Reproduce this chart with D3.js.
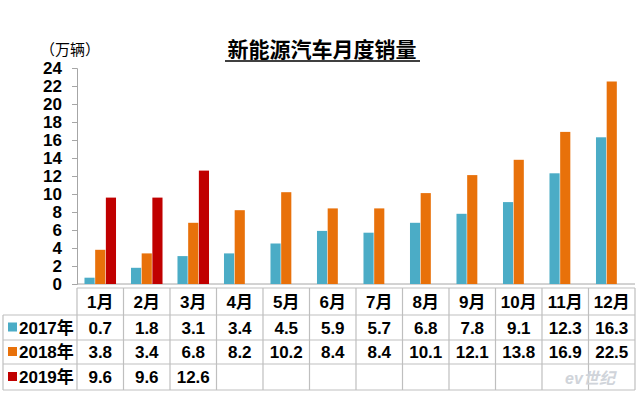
<!DOCTYPE html>
<html>
<head>
<meta charset="utf-8">
<script src="https://cdn.jsdelivr.net/npm/d3@7"></script>
<style>
body{margin:0;background:#fff;}
text{font-family:Arial,"Liberation Sans","Noto Sans CJK SC",sans-serif;font-weight:bold;fill:#000;}
</style>
</head>
<body>
<div id="chart"></div>
<script>
// data
var months = ['1月','2月','3月','4月','5月','6月','7月','8月','9月','10月','11月','12月'];
var series = ['2017年','2018年','2019年'];
var colors = ['#4BACC6','#E8710A','#C00000'];
var v2017 = [0.7,1.8,3.1,3.4,4.5,5.9,5.7,6.8,7.8,9.1,12.3,16.3];
var v2018 = [3.8,3.4,6.8,8.2,10.2,8.4,8.4,10.1,12.1,13.8,16.9,22.5];
var v2019 = [9.6,9.6,12.6,null,null,null,null,null,null,null,null,null];
var yTicks = [0,2,4,6,8,10,12,14,16,18,20,22,24];

var values = [v2017,v2018,v2019];
var w = 640, h = 395;
var plotL = 77, plotR = 635, plotT = 68, plotB = 284;

var svg = d3.select('div#chart').append('svg')
			.attr('width',w)
			.attr('height',h);

//title
svg.append('text')
	.attr('x',322).attr('y',57)
	.attr('text-anchor','middle')
	.style('font-family','"Noto Sans CJK SC",sans-serif')
	.style('font-size','21px')
	.style('font-weight','bold')
	.text('新能源汽车月度销量');
svg.append('line')
	.attr('x1',225).attr('x2',420)
	.attr('y1',61).attr('y2',61)
	.attr('stroke','#000').attr('stroke-width',1.5);

svg.append('text')
	.attr('x',40).attr('y',55)
	.style('font-family','"Noto Sans CJK SC",sans-serif')
	.style('font-size','15px')
	.style('font-weight','normal')
	.text('（万辆）');

//scales
var x = d3.scaleBand().domain(months).range([plotL,plotR]);
var xs = d3.scaleBand().domain(series).range([0,x.bandwidth()]).paddingInner(0.05).paddingOuter(0.7);
var y = d3.scaleLinear().domain([0,24]).range([plotB,plotT]);

//y axis
var yAxis = svg.append('g')
			.attr('transform','translate('+plotL+',0)')
			.call(d3.axisLeft(y).tickValues(yTicks).tickSize(5).tickPadding(10));
yAxis.select('.domain').attr('stroke','#a6a6a6');
yAxis.selectAll('.tick line').attr('stroke','#a6a6a6');
yAxis.selectAll('.tick text')
	.style('font-family','Arial,"Liberation Sans",sans-serif')
	.style('font-size','17px')
	.style('font-weight','bold')
	.attr('fill','#000');

//baseline
svg.append('line')
	.attr('x1',plotL).attr('x2',plotR)
	.attr('y1',plotB).attr('y2',plotB)
	.attr('stroke','#a6a6a6');

//bars
series.forEach(function(s,si){
	svg.append('g').selectAll('rect')
		.data(values[si].map(function(v,i){return {m:months[i],v:v};}).filter(function(d){return d.v!==null;}))
		.enter()
		.append('rect')
		.attr('x',function(d){return x(d.m)+xs(s);})
		.attr('width',xs.bandwidth())
		.attr('y',function(d){return y(d.v);})
		.attr('height',function(d){return plotB-y(d.v);})
		.attr('fill',colors[si]);
});

//data table
var rowY = [288,315,340,364,390];
var tableLeft = 3;
var grid = svg.append('g').attr('stroke','#bfbfbf').attr('stroke-width',1.2);

//horizontal lines
grid.append('line').attr('x1',plotL).attr('x2',plotR).attr('y1',rowY[0]).attr('y2',rowY[0]);
rowY.slice(1).forEach(function(yy){
	grid.append('line').attr('x1',tableLeft).attr('x2',plotR).attr('y1',yy).attr('y2',yy);
});
//vertical lines
grid.append('line').attr('x1',tableLeft).attr('x2',tableLeft).attr('y1',rowY[1]).attr('y2',rowY[4]);
months.forEach(function(m){
	grid.append('line').attr('x1',x(m)).attr('x2',x(m)).attr('y1',rowY[0]).attr('y2',rowY[4]);
});
grid.append('line').attr('x1',plotR).attr('x2',plotR).attr('y1',rowY[0]).attr('y2',rowY[4]);

//header
svg.append('g').selectAll('text')
	.data(months)
	.enter()
	.append('text')
	.attr('x',function(d){return x(d)+x.bandwidth()/2;})
	.attr('y',(rowY[0]+rowY[1])/2+6)
	.attr('text-anchor','middle')
	.style('font-size','17px')
	.text(function(d){return d;});

//rows
series.forEach(function(s,si){
	var cy = (rowY[si+1]+rowY[si+2])/2;
	svg.append('rect')
		.attr('x',8).attr('y',cy-5)
		.attr('width',9).attr('height',9)
		.attr('fill',colors[si]);
	svg.append('text')
		.attr('x',19).attr('y',cy+6)
		.style('font-size','17px')
		.text(s);
	svg.append('g').selectAll('text')
		.data(values[si].map(function(v,i){return {m:months[i],v:v};}).filter(function(d){return d.v!==null;}))
		.enter()
		.append('text')
		.attr('x',function(d){return x(d.m)+x.bandwidth()/2;})
		.attr('y',cy+6)
		.attr('text-anchor','middle')
		.style('font-size','17px')
		.text(function(d){return d3.format('.1f')(d.v);});
});

//watermark
svg.append('text')
	.attr('x',590).attr('y',384)
	.attr('text-anchor','middle')
	.style('font-size','16px')
	.style('font-style','italic')
	.style('fill','#d0d4da')
	.text('ev世纪');
</script>
</body>
</html>
